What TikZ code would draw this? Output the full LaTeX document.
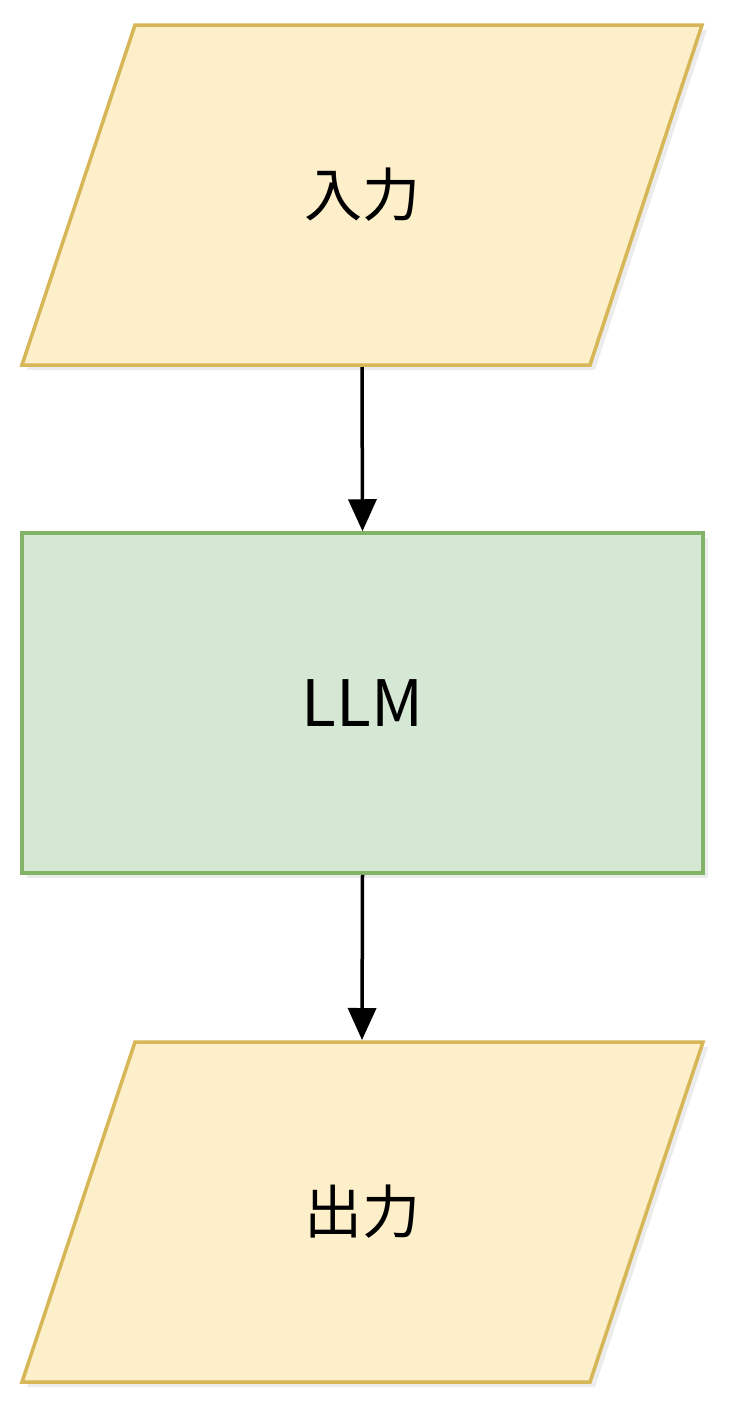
\documentclass[tikz,border=0pt]{standalone}
\usepackage{fontspec}
\setmainfont{Noto Sans CJK JP}
\usetikzlibrary{arrows.meta,shadows}
\definecolor{yfill}{HTML}{FCEFC9}
\definecolor{ydraw}{HTML}{D6B656}
\definecolor{gfill}{HTML}{D5E8D4}
\definecolor{gdraw}{HTML}{82B366}
\begin{document}
\begin{tikzpicture}[x=1pt,y=-1pt,
  io/.style={fill=yfill,draw=ydraw,line width=3.5pt,line join=miter,
    drop shadow={shadow xshift=5pt,shadow yshift=-5pt,opacity=0.15}},
  proc/.style={fill=gfill,draw=gdraw,line width=3.5pt,
    drop shadow={shadow xshift=5pt,shadow yshift=-5pt,opacity=0.15}},
  lbl/.style={font=\fontsize{58}{60}\selectfont,text=black},
  conn/.style={-{Triangle[length=32pt,width=28pt]},line width=3.5pt,black}]
\useasboundingbox (0,0) rectangle (736,1416);
\path[io] (135,25) -- (702,25) -- (590,365) -- (22,365) -- cycle;
\node[lbl] (in) at (362,195) {入力};
\coordinate (inb) at (362,367);
\node[proc,minimum width=681pt,minimum height=340pt,inner sep=0pt] (llm) at (362.5,703) {};
\node[lbl,font=\fontsize{64}{66}\selectfont] (llmt) at (362.5,703) {LLM};
\path[io] (135,1042) -- (703,1042) -- (590,1382) -- (22,1382) -- cycle;
\node[lbl] (out) at (362,1212) {出力};
\coordinate (outt) at (362,1040);
\draw[conn] (inb) -- (llm.north);
\draw[conn] (llm.south) -- (outt);
\end{tikzpicture}
\end{document}
